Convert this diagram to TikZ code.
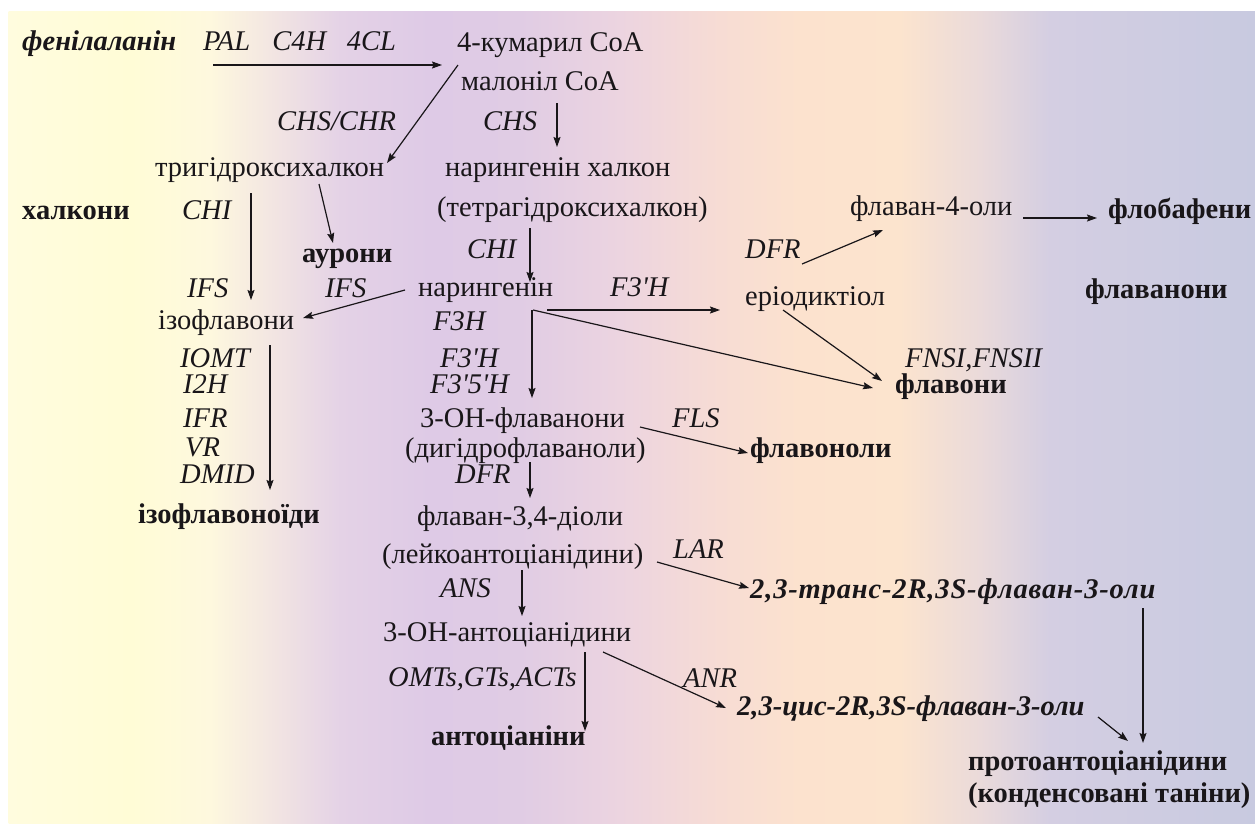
\documentclass[tikz,border=0pt]{standalone}
\usepackage{fontspec}
\setmainfont{Liberation Serif}
\usetikzlibrary{arrows.meta}
\definecolor{txt}{RGB}{25,22,25}
\definecolor{b0}{RGB}{255,252,222}
\definecolor{b1}{RGB}{255,252,214}
\definecolor{b2}{RGB}{254,248,222}
\definecolor{b3}{RGB}{243,230,226}
\definecolor{b4}{RGB}{228,210,230}
\definecolor{b5}{RGB}{222,202,230}
\definecolor{b6}{RGB}{224,204,228}
\definecolor{b7}{RGB}{236,212,224}
\definecolor{b8}{RGB}{247,220,212}
\definecolor{b9}{RGB}{252,226,206}
\definecolor{b10}{RGB}{252,228,206}
\definecolor{b11}{RGB}{234,218,218}
\definecolor{b12}{RGB}{212,206,226}
\definecolor{b13}{RGB}{200,202,224}
\newcommand{\qs}{\textquotesingle}
\begin{document}
\begin{tikzpicture}[x=1pt,y=-1pt,
  lbl/.style={anchor=base west, inner sep=0pt, text=txt, font=\fontsize{28.5}{31}\selectfont},
  enz/.style={lbl, font=\fontsize{28.5}{31}\selectfont\itshape},
  grp/.style={lbl, font=\fontsize{28.5}{31}\selectfont\bfseries},
  grpi/.style={lbl, font=\fontsize{28.5}{31}\selectfont\bfseries\itshape},
  arr/.style={-{Stealth[length=10pt,width=7pt,inset=1.5pt]}, line width=1.2pt, draw=txt}]
\useasboundingbox (0,0) rectangle (1255,823);
\fill[white] (0,0) rectangle (1255,823);
% background gradient
\foreach \xa/\xb/\ca/\cb in {9/130/b0/b1,130/210/b1/b2,210/270/b2/b3,270/340/b3/b4,340/430/b4/b5,430/520/b5/b6,520/620/b6/b7,620/720/b7/b8,720/800/b8/b9,800/900/b9/b10,900/980/b10/b11,980/1050/b11/b12,1050/1255/b12/b13}
  \shade[left color=\ca, right color=\cb] (\xa-0.5,11) rectangle (\xb+0.5,823);
% texts
\node[grpi] (phe) at (22,50) {фенілаланін};
\node[enz] (enz1) at (203,50) {PAL\hspace{0.78em}C4H\hspace{0.72em}4CL};
\node[lbl] (coum) at (457,51) {4-кумарил CoA};
\node[lbl] (malo) at (461,90) {малоніл CoA};
\node[enz] (chschr) at (277,130) {CHS/CHR};
\node[enz] (chs) at (483,130) {CHS};
\node[lbl] (trig) at (155,176) {тригідроксихалкон};
\node[lbl] (narch) at (445,176) {нарингенін халкон};
\node[lbl] (tetra) at (437,216) {(тетрагідроксихалкон)};
\node[grp] (halk) at (22,219) {халкони};
\node[enz] (chi1) at (182,219) {CHI};
\node[lbl] (fl4) at (850,215) {флаван-4-оли};
\node[grp] (flob) at (1108,218) {флобафени};
\node[grp] (aur) at (302,262) {аурони};
\node[enz] (chi2) at (467,258) {CHI};
\node[enz] (dfr1) at (745,258) {DFR};
\node[enz] (ifs1) at (187,297) {IFS};
\node[enz] (ifs2) at (325,297) {IFS};
\node[lbl] (nar) at (418,296) {нарингенін};
\node[enz] (f3h1) at (610,296) {F3\qs H};
\node[lbl] (erio) at (745,305) {еріодиктіол};
\node[grp] (flvn) at (1085,298) {флаванони};
\node[lbl] (izo) at (158,329) {ізофлавони};
\node[enz] (f3h) at (433,330) {F3H};
\node[enz] (iomt) at (180,367) {IOMT};
\node[enz] (i2h) at (183,393) {I2H};
\node[enz] (ifr) at (183,427) {IFR};
\node[enz] (vr) at (185,456) {VR};
\node[enz] (dmid) at (180,483) {DMID};
\node[enz] (f3h2) at (440,367) {F3\qs H};
\node[enz] (f35h) at (430,393) {F3\qs 5\qs H};
\node[enz] (fnsi) at (905,367) {FNSI,FNSII};
\node[grp] (flavoni) at (895,393) {флавони};
\node[lbl] (ohfl) at (420,427) {3-OH-флаванони};
\node[enz] (fls) at (672,427) {FLS};
\node[lbl] (dihyd) at (405,457) {(дигідрофлаваноли)};
\node[grp] (flavonoli) at (750,457) {флавоноли};
\node[enz] (dfr2) at (455,483) {DFR};
\node[grp] (izoid) at (138,523) {ізофлавоноїди};
\node[lbl] (fl34) at (417,525) {флаван-3,4-діоли};
\node[lbl] (leuko) at (382,563) {(лейкоантоціанідини)};
\node[enz] (lar) at (673,558) {LAR};
\node[grpi, font=\fontsize{28.5}{31}\selectfont\bfseries\itshape\addfontfeature{LetterSpace=3}] (trans) at (750,598) {2,3-транс-2R,3S-флаван-3-оли};
\node[enz] (ans) at (440,597) {ANS};
\node[lbl] (ohant) at (383,641) {3-OH-антоціанідини};
\node[enz] (omts) at (388,686) {OMTs,GTs,ACTs};
\node[enz] (anr) at (683,687) {ANR};
\node[grpi] (cis) at (737,715) {2,3-цис-2R,3S-флаван-3-оли};
\node[grp] (antoc) at (431,745) {антоціаніни};
\node[grp] (proto) at (968,770) {протоантоціанідини};
\node[grp] (cond) at (968,802) {(конденсовані таніни)};
% connectors
\draw[arr] ([shift={(10,15)}]enz1.base west) -- ([shift={(-15,14)}]coum.base west);
\draw[arr] ([shift={(1,14)}]coum.base west) -- ([shift={(232,-13)}]trig.base west);
\draw[arr] ([shift={(96,13)}]malo.base west) -- ([shift={(112,-29)}]narch.base west);
\draw[arr] ([shift={(96,17)}]trig.base west) -- ([shift={(93,-29)}]izo.base west);
\draw[arr] ([shift={(164,8)}]trig.base west) -- ([shift={(31,-19)}]aur.base west);
\draw[arr] ([shift={(93,12)}]tetra.base west) -- ([shift={(112,-14)}]nar.base west);
\draw[arr] ([shift={(57,6)}]dfr1.base west) -- ([shift={(33,15)}]fl4.base west);
\draw[arr] ([shift={(173,3)}]fl4.base west) -- ([shift={(-11,0)}]flob.base west);
\draw[arr] ([shift={(-13,-6)}]nar.base west) -- ([shift={(145,-11)}]izo.base west);
\draw[arr] ([shift={(129,14)}]nar.base west) -- ([shift={(-25,5)}]erio.base west);
\draw[arr] ([shift={(114,14)}]nar.base west) -- ([shift={(112,-29)}]ohfl.base west);
\draw[arr] ([shift={(115,14)}]nar.base west) -- ([shift={(-22,-5)}]flavoni.base west);
\draw[arr] ([shift={(38,5)}]erio.base west) -- ([shift={(-13,-12)}]flavoni.base west);
\draw[arr] ([shift={(112,16)}]izo.base west) -- ([shift={(132,-33)}]izoid.base west);
\draw[arr] ([shift={(220,0)}]ohfl.base west) -- ([shift={(-2,-4)}]flavonoli.base west);
\draw[arr] ([shift={(125,5)}]dihyd.base west) -- ([shift={(113,-27)}]fl34.base west);
\draw[arr] ([shift={(275,-1)}]leuko.base west) -- ([shift={(-1,-10)}]trans.base west);
\draw[arr] ([shift={(140,7)}]leuko.base west) -- ([shift={(139,-25)}]ohant.base west);
\draw[arr] ([shift={(202,11)}]ohant.base west) -- ([shift={(154,-14)}]antoc.base west);
\draw[arr] ([shift={(220,11)}]ohant.base west) -- ([shift={(-11,-7)}]cis.base west);
\draw[arr] ([shift={(361,2)}]cis.base west) -- ([shift={(160,-29)}]proto.base west);
\draw[arr] ([shift={(393,10)}]trans.base west) -- ([shift={(175,-27)}]proto.base west);
\end{tikzpicture}
\end{document}
